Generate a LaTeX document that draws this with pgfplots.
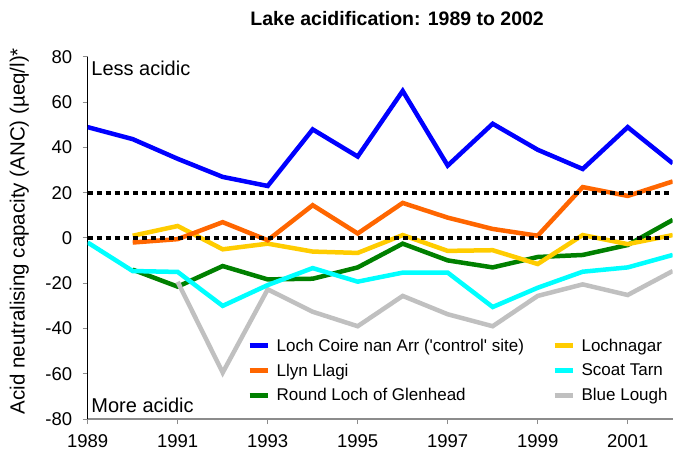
\documentclass[border=0pt]{standalone}
\usepackage{pgfplots}
\pgfplotsset{compat=1.18}
\usepackage{fontspec}
\setmainfont{Liberation Sans}
\definecolor{cBlue}{RGB}{0,0,255}
\definecolor{cOrange}{RGB}{255,102,0}
\definecolor{cGreen}{RGB}{0,128,0}
\definecolor{cYellow}{RGB}{255,204,0}
\definecolor{cCyan}{RGB}{0,255,255}
\definecolor{cGrey}{RGB}{192,192,192}
\newcommand{\ff}{\fontsize{18.5bp}{21bp}\selectfont}
\newcommand{\lf}{\fontsize{17bp}{20bp}\selectfont}
\begin{document}
\begin{tikzpicture}
\path[use as bounding box] (0,0) rectangle (675bp,457bp);
\begin{axis}[
  at={(87.7bp,38bp)}, anchor=south west,
  width=585bp, height=362bp, scale only axis,
  xmin=1989, xmax=2002, ymin=-80, ymax=80,
  xtick={1989,1991,...,2001},
  ytick={-80,-60,...,80},
  axis x line*=bottom, axis y line*=left,
  x axis line style={-, line width=1.5bp, black!45},
  y axis line style={-, line width=1bp, black},
  tick style={line width=1bp, black!45},
  tick align=outside, major tick length=5bp,
  /pgf/number format/assume math mode=true,
  /pgf/number format/1000 sep={},
  tick label style={font=\ff},
  yticklabel style={xshift=-7bp},
  xticklabel style={yshift=-7bp},
  ylabel={Acid neutralising capacity (ANC) (µeq/l)*},
  ylabel style={font=\fontsize{20.5bp}{23bp}\selectfont, at={(axis description cs:-0.117,0.519)}, anchor=center, rotate=0},
  title={Lake acidification: 1989 to 2002},
  title style={font=\fontsize{19.5bp}{22bp}\selectfont\bfseries, at={(axis description cs:0.529,1.091)}, anchor=center},
  legend columns=2,
  legend cell align=left,
  legend style={draw=none, fill=none, font=\lf, at={(axis description cs:0.2723,0.227)}, anchor=north west,
    inner sep=0pt, row sep=7bp,
    /tikz/every even column/.append style={column sep=26bp}},
  legend image code/.code={\draw[line width=5bp] (0bp,0bp) -- (18bp,0bp); \path[draw=none, fill=none] (0bp,0bp) -- (25bp,0bp);},
]
\addlegendimage{cBlue}\addlegendentry{Loch Coire nan Arr (\textquotesingle control\textquotesingle{} site)}
\addlegendimage{cYellow}\addlegendentry{Lochnagar}
\addlegendimage{cOrange}\addlegendentry{Llyn Llagi}
\addlegendimage{cCyan}\addlegendentry{Scoat Tarn}
\addlegendimage{cGreen}\addlegendentry{Round Loch of Glenhead}
\addlegendimage{cGrey}\addlegendentry{Blue Lough}

% Round Loch of Glenhead
\addplot[cGreen, line width=4.5bp, forget plot] coordinates {
(1990,-14)(1991,-21.5)(1992,-12.4)(1993,-18.3)(1994,-18)(1995,-13)(1996,-2.5)
(1997,-9.9)(1998,-13)(1999,-8.4)(2000,-7.5)(2001,-3.1)(2002,8)};
% Lochnagar
\addplot[cYellow, line width=4.5bp, forget plot] coordinates {
(1990,1)(1991,5.3)(1992,-5)(1993,-2.5)(1994,-6)(1995,-6.6)(1996,1.3)
(1997,-5.7)(1998,-5.4)(1999,-11.5)(2000,1.3)(2001,-2.7)(2002,1.3)};
% Llyn Llagi
\addplot[cOrange, line width=4.5bp, forget plot] coordinates {
(1990,-2)(1991,-0.5)(1992,7)(1993,-1)(1994,14.5)(1995,2)(1996,15.5)
(1997,9)(1998,4)(1999,1)(2000,22.5)(2001,18.6)(2002,25)};
% Blue Lough
\addplot[cGrey, line width=4.5bp, forget plot] coordinates {
(1991,-19.4)(1992,-59.5)(1993,-22.7)(1994,-32.6)(1995,-39)(1996,-25.6)
(1997,-33.7)(1998,-39)(1999,-25.6)(2000,-20.5)(2001,-25.2)(2002,-14.6)};
% Scoat Tarn
\addplot[cCyan, line width=4.5bp, forget plot] coordinates {
(1989,-2)(1990,-14.6)(1991,-15)(1992,-30)(1993,-20.8)(1994,-13.3)(1995,-19.3)
(1996,-15.3)(1997,-15.3)(1998,-30.5)(1999,-22)(2000,-14.9)(2001,-13)(2002,-7.5)};
% Loch Coire nan Arr
\addplot[cBlue, line width=4.5bp, forget plot] coordinates {
(1989,49)(1990,43.7)(1991,35)(1992,27)(1993,23)(1994,48)(1995,36)(1996,65)
(1997,32)(1998,50.5)(1999,39)(2000,30.5)(2001,49)(2002,33)};
% reference lines
\addplot[black, line width=4bp, dash pattern=on 5bp off 4bp, forget plot] coordinates {(1989,20)(2002,20)};
\addplot[black, line width=4bp, dash pattern=on 5bp off 4bp, forget plot] coordinates {(1989,0)(2002,0)};

\node[font=\fontsize{20bp}{23bp}\selectfont, anchor=west, inner sep=0pt] at (axis description cs:0.006,0.9696) {Less acidic};
\node[font=\fontsize{20bp}{23bp}\selectfont, anchor=west, inner sep=0pt] at (axis description cs:0.006,0.0387) {More acidic};
\end{axis}
\end{tikzpicture}
\end{document}
